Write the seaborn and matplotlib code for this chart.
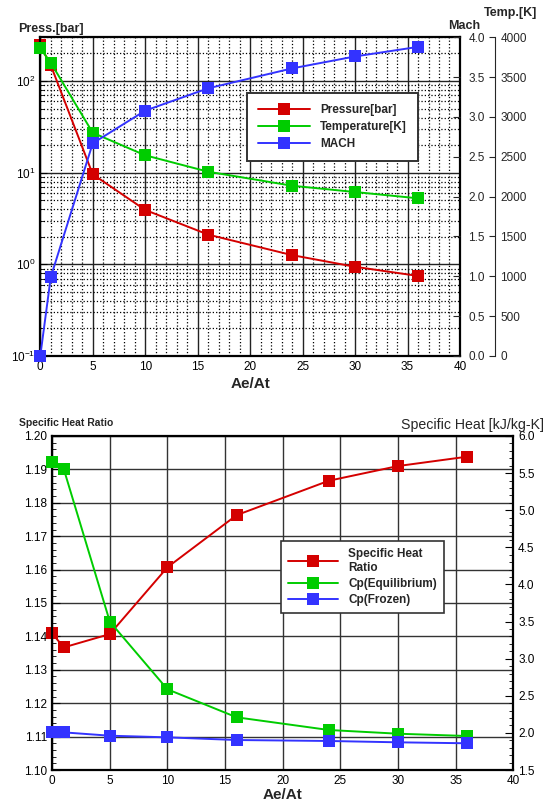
import numpy as np
import pandas as pd
import matplotlib
matplotlib.use('Agg')
import matplotlib.pyplot as plt
from matplotlib.ticker import MultipleLocator, LogLocator, NullFormatter
import seaborn as sns

# area ratio stations
area_ratio = [0, 1, 5, 10, 16, 24, 30, 36]

# top chart
pressure = [245, 149, 9.6, 3.92, 2.11, 1.26, 0.94, 0.747]
temperature = [3861, 3681, 2802, 2519, 2313, 2137, 2058, 1979]
mach = [0.0, 0.99, 2.67, 3.08, 3.36, 3.61, 3.76, 3.88]

# bottom chart
gamma = [1.1409, 1.1367, 1.1407, 1.1607, 1.1763, 1.1866, 1.1910, 1.1938]
cp_equil = [5.654, 5.556, 3.498, 2.587, 2.21, 2.039, 1.989, 1.958]
cp_frozen = [2.016, 2.007, 1.962, 1.94, 1.904, 1.891, 1.873, 1.86]

RED = '#d40000'
GREEN = '#00cc00'
BLUE = '#3333ff'

sns.set_style('white')
plt.rcParams['font.family'] = ['Liberation Sans', 'DejaVu Sans']
plt.rcParams['mathtext.fontset'] = 'custom'
plt.rcParams['mathtext.rm'] = 'Liberation Sans'

df = pd.DataFrame({'ar': area_ratio, 'p': pressure, 't': temperature, 'm': mach,
                   'g': gamma, 'cpe': cp_equil, 'cpf': cp_frozen})

fig = plt.figure(figsize=(5.45, 8.01), dpi=100)
line_kw = dict(marker='s', markersize=8, markeredgewidth=0, linewidth=1.4)

# ---------------- top chart ----------------
ax = fig.add_axes([0.0739, 0.5556, 0.7701, 0.3978])
ax.set_yscale('log')
ax.set_xlim(0, 40)
ax.set_ylim(0.1, 300)
ax.xaxis.set_major_locator(MultipleLocator(5))
ax.xaxis.set_minor_locator(MultipleLocator(1))
ax.yaxis.set_major_locator(LogLocator(base=10))
ax.yaxis.set_minor_locator(LogLocator(base=10, subs=np.arange(2, 10)))
ax.yaxis.set_minor_formatter(NullFormatter())
ax.grid(which='major', color='#222222', linewidth=1.0)
ax.grid(which='minor', color='black', linestyle=':', linewidth=0.9)
ax.set_axisbelow(True)
ax.tick_params(which='both', direction='in', labelsize=8.5, colors='black')
ax.tick_params(which='major', length=5)
ax.tick_params(which='minor', length=3)
for s in ax.spines.values():
    s.set_linewidth(1.6)
    s.set_color('black')

sns.lineplot(data=df, x='ar', y='p', ax=ax, color=RED, clip_on=False, **line_kw)
ax.set_xlabel('Ae/At', fontsize=11, fontweight='bold', labelpad=3)
ax.set_ylabel('')

axm = ax.twinx()
sns.lineplot(data=df, x='ar', y='m', ax=axm, color=BLUE, clip_on=False, zorder=5, **line_kw)
axm.set_ylim(0, 4)
axm.yaxis.set_major_locator(MultipleLocator(0.5))
axm.yaxis.set_major_formatter(matplotlib.ticker.FormatStrFormatter('%.1f'))
axm.set_ylabel('')
axm.tick_params(direction='in', labelsize=8.5, length=5, pad=6)
for s in axm.spines.values():
    s.set_visible(False)

axt = ax.twinx()
axt.spines['right'].set_position(('outward', 25))
sns.lineplot(data=df, x='ar', y='t', ax=axt, color=GREEN, clip_on=False, zorder=4, **line_kw)
axt.set_ylim(0, 4000)
axt.yaxis.set_major_locator(MultipleLocator(500))
axt.set_ylabel('')
axt.tick_params(direction='in', labelsize=8.5, length=4, pad=4)
for k, s in axt.spines.items():
    s.set_visible(k == 'right')
axt.spines['right'].set_linewidth(0.8)

# keep the mach series on top of temperature
axm.set_zorder(axt.get_zorder() + 1)
axm.patch.set_visible(False)
axt.patch.set_visible(False)

h = [ax.get_lines()[0], axt.get_lines()[0], axm.get_lines()[0]]
leg = axm.legend(h, ['Pressure[bar]', 'Temperature[K]', 'MACH'],
                 loc='upper left', bbox_to_anchor=(0.4925, 0.825),
                 frameon=True, fancybox=False, framealpha=1, edgecolor='#333333',
                 prop={'weight': 'bold', 'size': 8.5}, handlelength=4.4,
                 borderpad=0.9, labelspacing=0.45, handletextpad=0.9, borderaxespad=0)
leg.get_frame().set_linewidth(1.4)

fig.text(18 / 545, 1 - 32 / 801, 'Press.[bar]', fontsize=9, fontweight='bold', va='baseline')
fig.text(464 / 545, 1 - 29 / 801, 'Mach', fontsize=9, fontweight='bold', va='baseline', ha='center')
fig.text(511 / 545, 1 - 16 / 801, 'Temp.[K]', fontsize=9, fontweight='bold', va='baseline', ha='center')

# ---------------- bottom chart ----------------
bx = fig.add_axes([0.0958, 0.0387, 0.8459, 0.417])
bx.set_xlim(0, 40)
bx.set_ylim(1.10, 1.20)
bx.xaxis.set_major_locator(MultipleLocator(5))
bx.xaxis.set_minor_locator(MultipleLocator(1))
bx.yaxis.set_major_locator(MultipleLocator(0.01))
bx.yaxis.set_minor_locator(MultipleLocator(0.002))
bx.yaxis.set_major_formatter(matplotlib.ticker.FormatStrFormatter('%.2f'))
bx.grid(which='major', color='#333333', linewidth=1.0)
bx.set_axisbelow(True)
bx.tick_params(which='both', direction='in', labelsize=8.5, colors='black')
bx.tick_params(which='major', length=6)
bx.tick_params(which='minor', length=3)
for s in bx.spines.values():
    s.set_linewidth(1.6)
    s.set_color('black')

sns.lineplot(data=df, x='ar', y='g', ax=bx, color=RED, clip_on=False, **line_kw)
bx.set_xlabel('Ae/At', fontsize=11, fontweight='bold', labelpad=1)
bx.set_ylabel('')

bc = bx.twinx()
sns.lineplot(data=df, x='ar', y='cpe', ax=bc, color=GREEN, clip_on=False, **line_kw)
sns.lineplot(data=df, x='ar', y='cpf', ax=bc, color=BLUE, clip_on=False, **line_kw)
bc.set_ylim(1.5, 6.0)
bc.yaxis.set_major_locator(MultipleLocator(0.5))
bc.yaxis.set_minor_locator(MultipleLocator(0.1))
bc.yaxis.set_major_formatter(matplotlib.ticker.FormatStrFormatter('%.1f'))
bc.set_ylabel('')
bc.tick_params(which='both', direction='in', labelsize=8.5, colors='black')
bc.tick_params(which='major', length=6)
bc.tick_params(which='minor', length=3)
for s in bc.spines.values():
    s.set_visible(False)

h2 = [bx.get_lines()[0], bc.get_lines()[0], bc.get_lines()[1]]
leg2 = bc.legend(h2, ['Specific Heat\nRatio', 'Cp(Equilibrium)', 'Cp(Frozen)'],
                 loc='upper left', bbox_to_anchor=(0.496, 0.686),
                 frameon=True, fancybox=False, framealpha=1, edgecolor='#333333',
                 prop={'weight': 'bold', 'size': 8.5}, handlelength=4.2,
                 borderpad=0.6, labelspacing=0.35, handletextpad=0.9, borderaxespad=0)
leg2.get_frame().set_linewidth(1.2)

fig.text(19 / 545, 1 - 426 / 801, 'Specific Heat Ratio', fontsize=7.5, fontweight='bold', va='baseline')
fig.text(544 / 545, 1 - 429 / 801, 'Specific Heat [kJ/kg-K]', fontsize=10.2, va='baseline', ha='right')

fig.savefig('out.png', dpi=100)
